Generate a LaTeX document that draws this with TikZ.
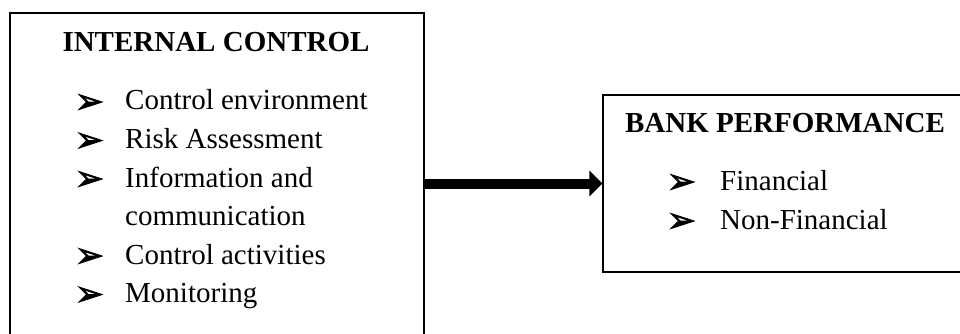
\documentclass[tikz,border=0pt]{standalone}
\usepackage{fontspec}
\setmainfont{Liberation Serif}
\newfontfamily\symfont[FakeBold=2]{DejaVu Sans}
\usetikzlibrary{arrows.meta}
\begin{document}
\begin{tikzpicture}[x=1pt,y=-1pt,
  box/.style={draw, line width=1.3pt, rectangle, inner sep=0pt},
  head/.style={font=\fontsize{29}{34}\selectfont\bfseries, anchor=base, inner sep=0pt},
  item/.style={font=\fontsize{29}{34}\selectfont, anchor=base west, inner sep=0pt},
  bul/.style={font=\symfont\fontsize{35}{40}\selectfont, anchor=base, inner sep=0pt, yshift=-3pt},
  link/.style={line width=10pt, -{Triangle[length=13pt,width=25pt]}}]
\useasboundingbox (0,0) rectangle (960,334);
\clip (0,0) rectangle (960,334);
% the two boxes
\node[box, minimum width=414pt, minimum height=340pt] (ic) at (217,183) {};
\node[box, minimum width=380pt, minimum height=177pt] (bp) at (793,183.5) {};
% left box contents
\node[head] (ich) at (216,52) {INTERNAL CONTROL};
\foreach \y/\t [count=\i] in {110/Control environment, 148.5/Risk Assessment, 187/Information and, 264/Control activities, 302.5/Monitoring}{
  \node[bul] (icb\i) at (89.5,\y) {➢};
  \node[item] (ici\i) at (125,\y) {\t};
}
\node[item] (ici6) at (125,225.5) {communication};
% right box contents
\node[head] (bph) at (785,132) {BANK PERFORMANCE};
\node[bul] (bpb1) at (681.5,190) {➢};
\node[item] (bpi1) at (720,190) {Financial};
\node[bul] (bpb2) at (681.5,229) {➢};
\node[item] (bpi2) at (720,229) {Non-Financial};
% connector
\draw[link] (bp.west -| ic.east) -- (bp.west);
\end{tikzpicture}
\end{document}
